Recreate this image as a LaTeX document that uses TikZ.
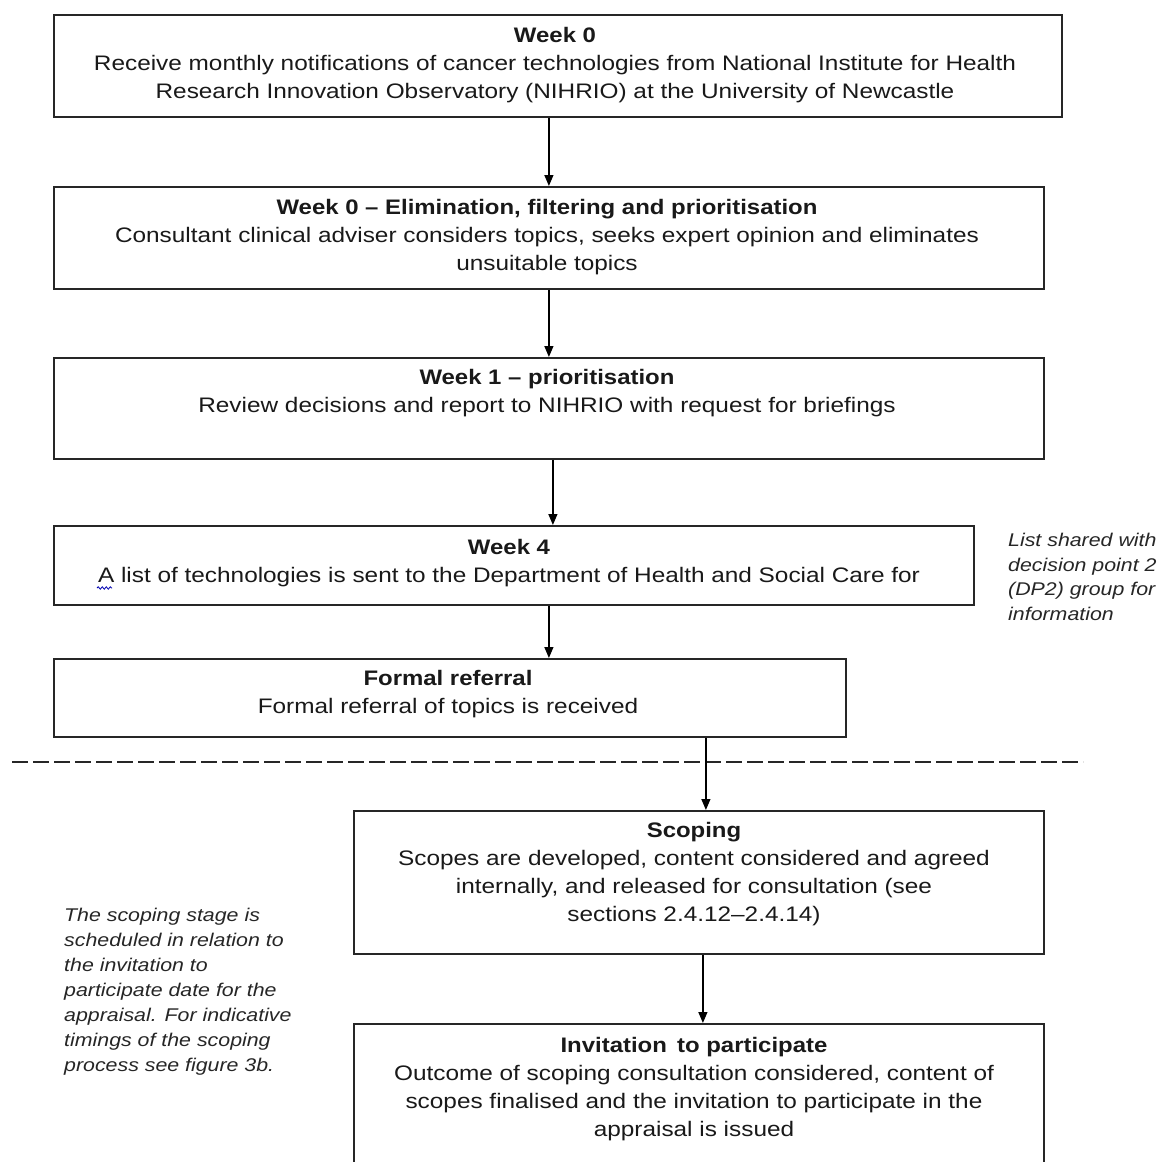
\documentclass[tikz,border=0pt]{standalone}
\usepackage{fontspec}
\setmainfont{Liberation Sans}[FakeStretch=1.16,BoldFeatures={FakeStretch=1.14}]
\usetikzlibrary{arrows.meta,decorations.pathmorphing}
\begin{document}
\begin{tikzpicture}[x=1pt,y=-1pt,
  box/.style={draw=black!85,line width=1.8pt,rectangle,inner sep=0pt,anchor=north west},
  txt/.style={align=center,inner sep=0pt,anchor=base,text=black!90,font=\fontsize{21}{28}\selectfont},
  note/.style={align=left,inner sep=0pt,anchor=base west,text=black!85,font=\fontsize{18.4}{25}\selectfont\itshape},
  arr/.style={draw=black,line width=1.3pt,-{Triangle[length=11pt,width=9pt]}},
  sep/.style={draw=black!85,line width=2.2pt,dash pattern=on 16pt off 5pt}]
\clip (0,0) rectangle (1160,1162);
\fill[white] (0,0) rectangle (1160,1162);
% boxes
\node[box,minimum width=1008pt,minimum height=102pt] (b1) at (53,14) {};
\node[box,minimum width=990pt,minimum height=102pt] (b2) at (53,186) {};
\node[box,minimum width=990pt,minimum height=101pt] (b3) at (53,357) {};
\node[box,minimum width=920pt,minimum height=79pt] (b4) at (53,525) {};
\node[box,minimum width=792pt,minimum height=78pt] (b5) at (53,658) {};
\node[box,minimum width=690pt,minimum height=143pt] (b6) at (353,810) {};
\node[box,minimum width=690pt,minimum height=170pt] (b7) at (353,1023) {};
% texts (base anchor = baseline of the last line)
\node[txt] (t1) at (555,98) {\textbf{Week 0}\\Receive monthly notifications of cancer technologies from National Institute for Health\\Research Innovation Observatory (NIHRIO) at the University of Newcastle};
\node[txt] (t2) at (547,270) {\textbf{Week 0 – Elimination, filtering and prioritisation}\\Consultant clinical adviser considers topics, seeks expert opinion and eliminates\\unsuitable topics};
\node[txt] (t3) at (547,412) {\textbf{Week 1 – prioritisation}\\Review decisions and report to NIHRIO with request for briefings};
\node[txt] (t4) at (509,582) {\textbf{Week 4}\\A list of technologies is sent to the Department of Health and Social Care for};
\node[txt] (t5) at (448,713) {\textbf{Formal referral}\\Formal referral of topics is received};
\node[txt] (t6) at (694,921) {\textbf{Scoping}\\Scopes are developed, content considered and agreed\\internally, and released for consultation (see\\sections 2.4.12–2.4.14)};
\node[txt] (t7) at (694,1136) {\textbf{Invitation\, to participate}\\Outcome of scoping consultation considered, content of\\scopes finalised and the invitation to participate in the\\appraisal is issued};
\node[note,font=\fontsize{18.4}{24.5}\selectfont\itshape] (n1) at (1008,620) {List shared with\\decision point 2\\(DP2) group for\\information};
\node[note] (n2) at (64,1071) {The scoping stage is\\scheduled in relation to\\the invitation to\\participate date for the\\appraisal. For indicative\\timings of the scoping\\process see figure 3b.};
% spell-check squiggle under "A"
\draw[blue!70!black,line width=0.8pt,decorate,decoration={snake,amplitude=1.2pt,segment length=4pt}] (97,588) -- (112,588);
% connectors
\draw[arr] ([xshift=-9pt]b1.south) -- ([xshift=-9pt]b1.south |- b2.north);
\draw[arr] ([xshift=0pt]b2.south) -- (b2.south |- b3.north);
\draw[arr] ([xshift=4pt]b3.south) -- ([xshift=4pt]b3.south |- b4.north);
\draw[arr] ([xshift=35pt]b4.south) -- ([xshift=35pt]b4.south |- b5.north);
\coordinate (d1) at (12,762);
\coordinate (d2) at (1083,762);
\draw[sep] (d1) -- (d2);
\draw[arr] ([xshift=256pt]b5.south) -- ([xshift=256pt]b5.south |- b6.north);
\draw[arr] ([xshift=4pt]b6.south) -- ([xshift=4pt]b6.south |- b7.north);
\end{tikzpicture}
\end{document}
